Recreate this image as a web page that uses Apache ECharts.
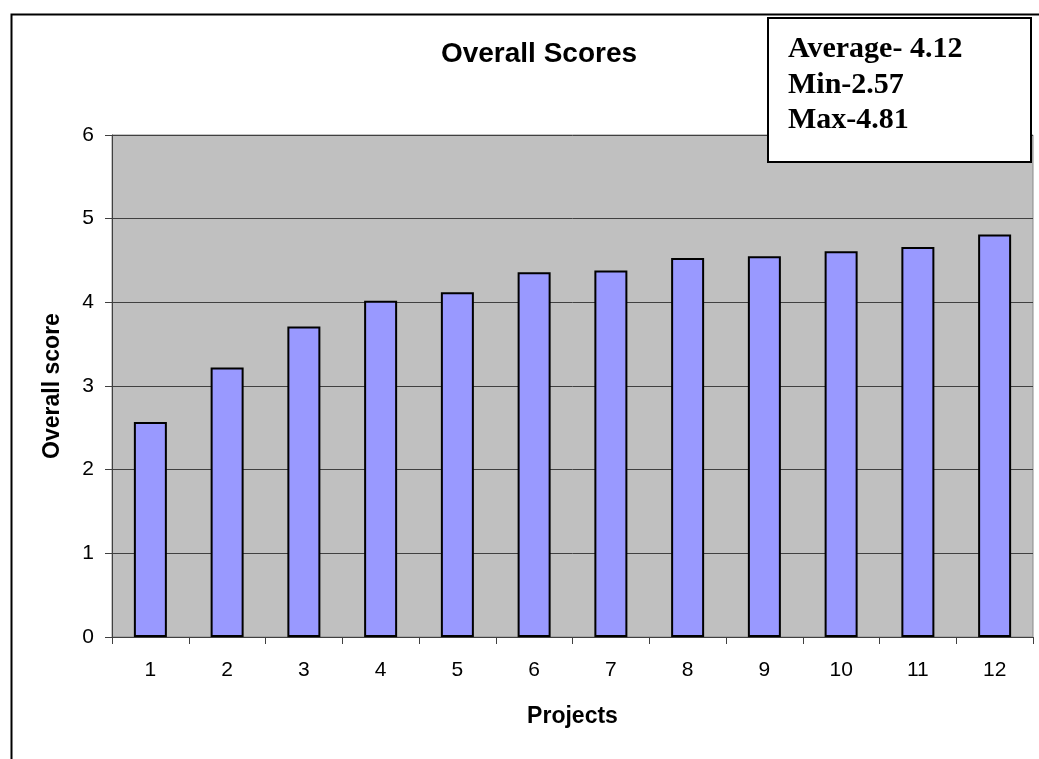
<!DOCTYPE html>
<html>
<head>
<meta charset="utf-8">
<script src="https://cdn.jsdelivr.net/npm/echarts@6/dist/echarts.min.js"></script>
<style>html,body{margin:0;padding:0;background:#fff;}#c{width:1039px;height:759px;}</style>
</head>
<body>
<div id="c"></div>
<script>
var categories = ['1','2','3','4','5','6','7','8','9','10','11','12'];
var scores = [2.57, 3.22, 3.71, 4.02, 4.12, 4.36, 4.38, 4.53, 4.55, 4.61, 4.66, 4.81];
var yTicks = [0, 1, 2, 3, 4, 5, 6];
var statLines = ['Average- 4.12', 'Min-2.57', 'Max-4.81'];

var chart = echarts.init(document.getElementById('c'), null, {renderer: 'canvas'});
var sans = '"Liberation Sans", Arial, sans-serif';
var serif = '"Liberation Serif", "Times New Roman", serif';

chart.setOption({
  animation: false,
  backgroundColor: '#ffffff',
  title: {
    text: 'Overall Scores',
    left: 534, top: 35, textAlign: 'center',
    textStyle: {fontFamily: sans, fontSize: 28, fontWeight: 'bold', color: '#000'}
  },
  grid: {
    left: 112, top: 135, width: 921, height: 502,
    show: true, backgroundColor: '#C0C0C0', borderColor: '#8a8a8a', borderWidth: 1
  },
  xAxis: {
    type: 'category',
    data: categories,
    name: 'Projects',
    nameLocation: 'middle',
    nameGap: 68,
    nameTextStyle: {fontFamily: sans, fontSize: 23, fontWeight: 'bold', color: '#000'},
    axisLine: {lineStyle: {color: '#404040', width: 1}},
    axisTick: {show: true, length: 7, alignWithLabel: false, lineStyle: {color: '#404040'}},
    axisLabel: {fontFamily: sans, fontSize: 21, color: '#000', margin: 23},
    splitLine: {show: false}
  },
  yAxis: {
    type: 'value',
    min: yTicks[0], max: yTicks[yTicks.length - 1], interval: 1,
    name: 'Overall score',
    nameLocation: 'middle',
    nameGap: 48,
    nameTextStyle: {fontFamily: sans, fontSize: 23, fontWeight: 'bold', color: '#000'},
    axisLine: {show: true, lineStyle: {color: '#404040', width: 1}},
    axisTick: {show: true, length: 7, lineStyle: {color: '#404040'}},
    axisLabel: {fontFamily: sans, fontSize: 21, color: '#000', margin: 18},
    splitLine: {show: true, lineStyle: {color: '#404040', width: 1}}
  },
  series: [{
    type: 'bar',
    data: scores,
    barWidth: '43%',
    itemStyle: {color: '#9999FF', borderColor: '#000', borderWidth: 2}
  }],
  graphic: [
    {type: 'rect', left: 9, top: 12, shape: {x: 0, y: 0, width: 1100, height: 800},
     style: {fill: 'none', stroke: '#000', lineWidth: 2}, z: 100},
    {type: 'rect', shape: {x: 768, y: 18, width: 263, height: 144},
     style: {fill: '#fff', stroke: '#000', lineWidth: 2}, z: 100},
    {type: 'text', x: 788, y: 34, z: 101,
     style: {text: statLines[0], font: 'bold 30px ' + serif, fill: '#000', verticalAlign: 'top'}},
    {type: 'text', x: 788, y: 70, z: 101,
     style: {text: statLines[1], font: 'bold 30px ' + serif, fill: '#000', verticalAlign: 'top'}},
    {type: 'text', x: 788, y: 105, z: 101,
     style: {text: statLines[2], font: 'bold 30px ' + serif, fill: '#000', verticalAlign: 'top'}}
  ]
});
</script>
</body>
</html>
